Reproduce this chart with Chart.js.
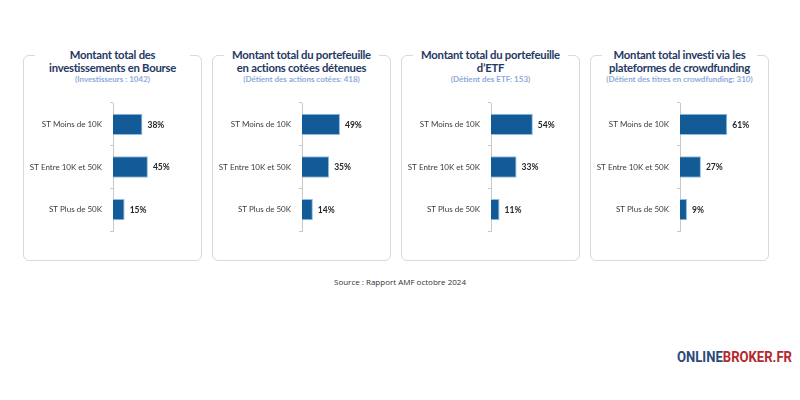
<!DOCTYPE html>
<html>
<head>
<meta charset="utf-8">
<script src="https://cdn.jsdelivr.net/npm/chart.js@4/dist/chart.umd.min.js"></script>
<style>
  html, body { margin:0; padding:0; background:#fff; }
  body { width:800px; height:400px; position:relative; overflow:hidden; font-family: Lato, 'Open Sans', sans-serif; }
  .panel { position:absolute; top:55px; height:206px; border:1px solid #d9d9d9; border-radius:6px; box-sizing:border-box; }
  .ttl { position:absolute; top:-8px; left:11px; right:11px; background:#fff; text-align:center; white-space:nowrap; }
  .ttl .t { font-weight:700; font-size:11.3px; letter-spacing:-0.25px; line-height:13px; color:#1f3864; }
  .ttl .s { font-weight:700; font-size:8px; line-height:11px; color:#8eaadb; }
  .cv { position:absolute; top:95px; width:180px; height:145px; }
  .src { position:absolute; top:276px; left:0; width:800px; text-align:center; font-family:'Open Sans', sans-serif; font-size:8px; color:#333; }
  .logo { position:absolute; top:348px; left:677px; font-family:'Roboto',sans-serif; font-weight:700; font-size:15px; line-height:18px; white-space:nowrap; transform-origin:left center; }
</style>
</head>
<body>
<div id="root"></div>
<div class="src">Source : Rapport AMF octobre 2024</div>
<div class="logo" id="logo"><span style="color:#2b4a7a">ONLINE</span><span style="color:#b5282e">BROKER.FR</span></div>
<script>
const categories = ["ST Moins de 10K", "ST Entre 10K et 50K", "ST Plus de 50K"];
const titles = [
  ["Montant total des", "investissements en Bourse"],
  ["Montant total du portefeuille", "en actions cotées détenues"],
  ["Montant total du portefeuille", "d’ETF"],
  ["Montant total investi via les", "plateformes de crowdfunding"]
];
const subtitles = [
  "(Investisseurs : 1042)",
  "(Détient des actions cotées: 418)",
  "(Détient des ETF: 153)",
  "(Détient des titres en crowdfunding: 310)"
];
const bourseValues = [38, 45, 15];
const actionsValues = [49, 35, 14];
const etfValues = [54, 33, 11];
const crowdValues = [61, 27, 9];
const seriesList = [bourseValues, actionsValues, etfValues, crowdValues];

const panelLefts = [23, 212, 401, 590];
const panelWidths = [179, 179, 179, 179];

const logo = document.getElementById('logo');
const lw = logo.getBoundingClientRect().width;
logo.style.transform = 'scaleX(' + (115 / lw) + ')';

const valueLabels = {
  id: 'valueLabels',
  afterDatasetsDraw(chart) {
    const ctx = chart.ctx;
    ctx.save();
    ctx.font = 'bold 8.5px Lato, sans-serif';
    ctx.fillStyle = '#262626';
    ctx.textBaseline = 'middle';
    ctx.textAlign = 'left';
    chart.getDatasetMeta(0).data.forEach((bar, i) => {
      ctx.fillText(chart.data.datasets[0].data[i] + '%', bar.x + 5, bar.y + 0.5);
    });
    ctx.restore();
  }
};

const root = document.getElementById('root');
seriesList.forEach((vals, k) => {
  const p = document.createElement('div');
  p.className = 'panel';
  p.style.left = panelLefts[k] + 'px';
  p.style.width = panelWidths[k] + 'px';
  p.innerHTML = '<div class="ttl"><div class="t">' + titles[k][0] + '<br>' + titles[k][1] + '</div><div class="s">' + subtitles[k] + '</div></div>';
  root.appendChild(p);
  const wrap = document.createElement('div');
  wrap.className = 'cv';
  wrap.style.left = panelLefts[k] + 'px';
  const c = document.createElement('canvas');
  wrap.appendChild(c);
  root.appendChild(wrap);
  new Chart(c, {
    type: 'bar',
    data: {
      labels: categories,
      datasets: [{
        data: vals,
        backgroundColor: '#135b97',
        borderColor: '#8ebde6',
        borderWidth: 1,
        barPercentage: 0.5,
        categoryPercentage: 1
      }]
    },
    options: {
      indexAxis: 'y',
      responsive: true,
      maintainAspectRatio: false,
      animation: false,
      layout: { padding: { top: 8, bottom: 9, left: 0, right: 12.5 } },
      plugins: { legend: { display: false }, tooltip: { enabled: false } },
      scales: {
        x: { display: false, min: 0, max: 100 },
        y: {
          afterFit(scale) { scale.width = 90; scale.paddingTop = 0; scale.paddingBottom = 0; },
          border: { color: '#c8c8c8', width: 1 },
          grid: { drawOnChartArea: false, tickLength: 3, color: '#c8c8c8', offset: true },
          ticks: { color: '#3a3a3a', font: { family: 'Lato', size: 8 }, padding: 8 }
        }
      }
    },
    plugins: [valueLabels]
  });
});
</script>
</body>
</html>
